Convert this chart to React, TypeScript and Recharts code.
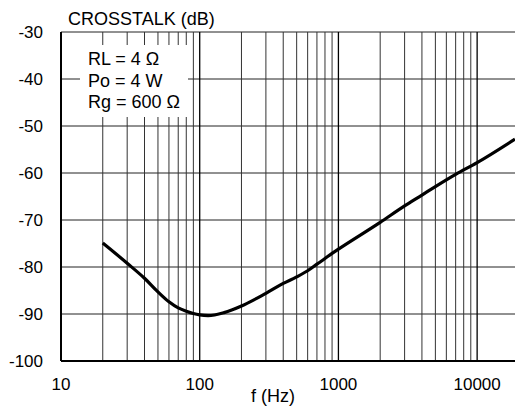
import { LineChart, Line, XAxis, YAxis, ReferenceLine } from "recharts";

// curve
const freqs = [20, 30, 40, 50, 60, 70, 80, 90, 100, 115, 150, 200, 300, 400, 500, 600, 700, 800, 900, 1000, 2000, 3000, 4000, 5000, 7000, 10000, 18750];
const crosstalk = [-74.9, -79.2, -82.4, -85.3, -87.4, -88.7, -89.4, -89.9, -90.2, -90.35, -89.7, -88.3, -85.6, -83.5, -82.1, -80.8, -79.4, -78.2, -77.1, -76.2, -70.5, -67, -64.7, -62.9, -60.3, -57.8, -52.8];

const xTicks = [10, 100, 1000, 10000];
const yTicks = [-100, -90, -80, -70, -60, -50, -40, -30];
const minorFreqs = [20, 30, 40, 50, 60, 70, 80, 90, 200, 300, 400, 500, 600, 700, 800, 900, 2000, 3000, 4000, 5000, 6000, 7000, 8000, 9000];
const majorFreqs = [100, 1000, 10000];
const conditions = ["RL = 4 Ω", "Po = 4 W", "Rg = 600 Ω"];

const data = freqs.map((f, i) => ({ f, db: crosstalk[i] }));

const font = "'Liberation Sans', Arial, sans-serif";

export default function App() {
  return (
    <div style={{ position: "absolute", left: 0, top: 0, width: 515, height: 416, background: "#fff", fontFamily: font }}>
      <LineChart width={515} height={416} data={data} margin={{ top: 32, right: 0, bottom: 0, left: 0 }}>
        <XAxis
          dataKey="f"
          type="number"
          scale="log"
          domain={[10, 18750]}
          ticks={xTicks}
          allowDataOverflow
          height={55}
          tickSize={0}
          tickMargin={17}
          axisLine={{ stroke: "#000", strokeWidth: 2 }}
          tick={{ fill: "#000", fontSize: 17, fontFamily: font }}
        />
        <YAxis
          type="number"
          domain={[-100, -30]}
          ticks={yTicks}
          width={61}
          tickSize={0}
          tickMargin={18}
          axisLine={{ stroke: "#000", strokeWidth: 2 }}
          tick={{ fill: "#000", fontSize: 17, fontFamily: font }}
        />
        {yTicks.slice(1).map((v) => (
          <ReferenceLine key={"h" + v} y={v} stroke="#222" strokeWidth={1} />
        ))}
        {minorFreqs.map((f) => (
          <ReferenceLine key={"m" + f} x={f} stroke="#333" strokeWidth={1} />
        ))}
        {majorFreqs.map((f) => (
          <ReferenceLine key={"M" + f} x={f} stroke="#000" strokeWidth={1.3} />
        ))}
        <Line
          dataKey="db"
          type="monotone"
          stroke="#000"
          strokeWidth={3.2}
          dot={false}
          isAnimationActive={false}
        />
      </LineChart>
      <div style={{ position: "absolute", left: 68, top: 8, fontSize: 18, lineHeight: "22px", color: "#000" }}>
        CROSSTALK (dB)
      </div>
      <div
        style={{
          position: "absolute",
          left: 80,
          top: 45,
          width: 108,
          height: 72,
          background: "#fff",
          boxSizing: "border-box",
          paddingLeft: 8,
          paddingTop: 4,
          fontSize: 18,
          lineHeight: "21.5px",
          color: "#000",
        }}
      >
        {conditions.map((c) => (
          <div key={c}>{c}</div>
        ))}
      </div>
      <div style={{ position: "absolute", left: 233, top: 385, width: 80, textAlign: "center", fontSize: 18, lineHeight: "22px", color: "#000" }}>
        f (Hz)
      </div>
    </div>
  );
}
